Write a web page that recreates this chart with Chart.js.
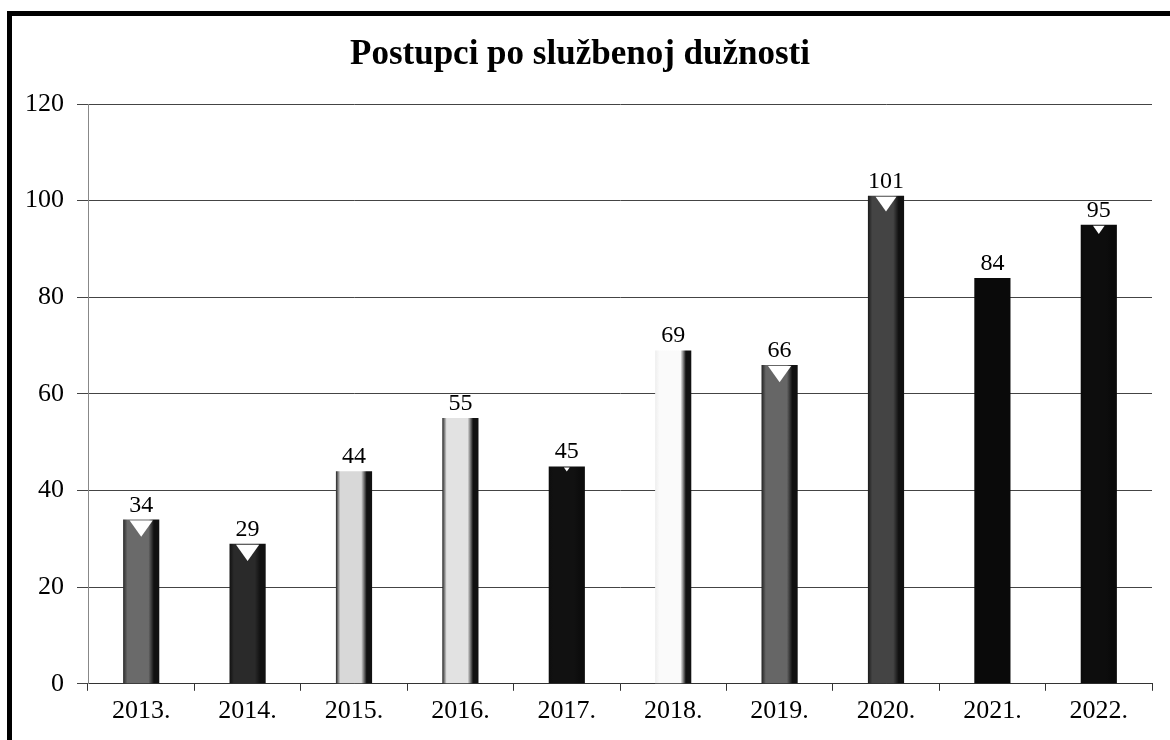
<!DOCTYPE html>
<html>
<head>
<meta charset="utf-8">
<script src="https://cdn.jsdelivr.net/npm/chart.js@4/dist/chart.umd.min.js"></script>
<style>
  html, body { margin: 0; padding: 0; background: #fff; }
  body { width: 1170px; height: 740px; position: relative; overflow: hidden; }
  .frame { position: absolute; left: 7px; top: 11px; width: 1200px; height: 800px; border: 5px solid #000; }
  .wrap { position: absolute; left: 0; top: 0; width: 1170px; height: 740px; }
</style>
</head>
<body>
<div class="frame"></div>
<div class="wrap"><canvas id="chart"></canvas></div>
<script>
const years = ['2013.', '2014.', '2015.', '2016.', '2017.', '2018.', '2019.', '2020.', '2021.', '2022.'];
const cases = [34, 29, 44, 55, 45, 69, 66, 101, 84, 95];
const yMax = 120;
const yStep = 20;

// grey shades of the scanned bars: left edge, body, right edge
const shades = [
    ['#2a2a2a', '#6a6a6a', '#111'],
    ['#111', '#2a2a2a', '#111'],
    ['#222', '#d8d8d8', '#111'],
    ['#222', '#e2e2e2', '#111'],
    ['#0d0d0d', '#111', '#0d0d0d'],
    ['#eee', '#fafafa', '#111'],
    ['#222', '#666', '#111'],
    ['#1a1a1a', '#444', '#111'],
    ['#0a0a0a', '#0a0a0a', '#0a0a0a'],
    ['#0a0a0a', '#0d0d0d', '#0a0a0a']
];
// size of the white notch at the top of a bar (0 = none)
const notches = [1, 1, 0, 0, 0.25, 0, 1, 0.9, 0, 0.5];
const barPct = 0.34;
const serif = '"Liberation Serif", "Times New Roman", serif';

function barFill(ctx) {
    const chart = ctx.chart;
    const shade = shades[ctx.dataIndex] || shades[0];
    if (!chart.chartArea || !chart.scales.x) return shade[1];
    const xs = chart.scales.x;
    const x = xs.getPixelForValue(ctx.dataIndex);
    const half = xs.width / years.length * barPct / 2;
    const g = chart.ctx.createLinearGradient(x - half, 0, x + half, 0);
    g.addColorStop(0, shade[0]);
    g.addColorStop(0.12, shade[1]);
    g.addColorStop(0.7, shade[1]);
    g.addColorStop(0.85, shade[2]);
    g.addColorStop(1, shade[2]);
    return g;
}

const barExtras = {
    id: 'barExtras',
    afterDatasetsDraw(chart) {
        const c = chart.ctx;
        const meta = chart.getDatasetMeta(0);
        c.save();
        meta.data.forEach((bar, i) => {
            const w = bar.width;
            const n = notches[i];
            if (n > 0) {
                c.fillStyle = '#fff';
                c.beginPath();
                c.moveTo(bar.x - w * 0.32 * n, bar.y + 1);
                c.lineTo(bar.x + w * 0.32 * n, bar.y + 1);
                c.lineTo(bar.x, bar.y + 1 + w * 0.45 * n);
                c.closePath();
                c.fill();
            }
            c.fillStyle = '#000';
            c.font = '24px ' + serif;
            c.textAlign = 'center';
            c.textBaseline = 'alphabetic';
            c.fillText(String(cases[i]), bar.x, bar.y - 8);
        });
        c.restore();
    }
};

new Chart(document.getElementById('chart'), {
    type: 'bar',
    data: {
        labels: years,
        datasets: [{
            data: cases,
            backgroundColor: barFill,
            borderWidth: 0,
            barPercentage: barPct,
            categoryPercentage: 1
        }]
    },
    options: {
        responsive: true,
        maintainAspectRatio: false,
        animation: false,
        layout: { padding: { left: 8, right: 18, top: 0, bottom: 8 } },
        plugins: {
            legend: { display: false },
            tooltip: { enabled: false },
            title: {
                display: true,
                text: 'Postupci po službenoj dužnosti',
                color: '#000',
                font: { family: serif, size: 35, weight: 'bold' },
                padding: { top: 34, bottom: 28 }
            }
        },
        scales: {
            x: {
                offset: true,
                grid: { offset: true, drawOnChartArea: false, drawTicks: true, tickLength: 7, color: '#333' },
                border: { color: '#333', width: 1 },
                ticks: { color: '#000', padding: 5, font: { family: serif, size: 26 } }
            },
            y: {
                min: 0,
                max: yMax,
                ticks: { stepSize: yStep, color: '#000', padding: 13, font: { family: serif, size: 26 } },
                grid: { color: '#444', lineWidth: 1, tickLength: 11 },
                border: { color: '#888', width: 1 },
                afterFit(scale) { scale.width = 80; }
            }
        }
    },
    plugins: [barExtras]
});
</script>
</body>
</html>
